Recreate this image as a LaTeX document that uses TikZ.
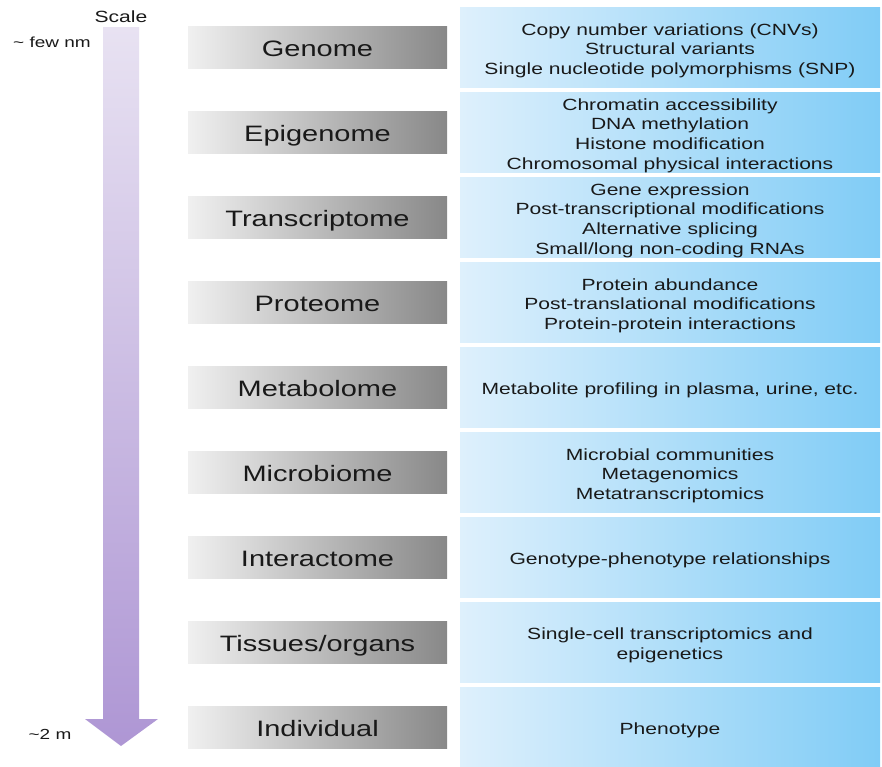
\documentclass[tikz,border=0pt]{standalone}
\usepackage{fontspec}
\setmainfont[FakeStretch=1.3]{Liberation Sans}
\usepackage{tikz}
\usetikzlibrary{positioning,shapes}
\definecolor{scaletop}{RGB}{232, 226, 242}
\definecolor{scalebottom}{RGB}{174, 150, 212}
\definecolor{layerlight}{RGB}{240, 240, 240}
\definecolor{layerdark}{RGB}{136, 136, 136}
\definecolor{infolight}{RGB}{222, 240, 252}
\definecolor{infodark}{RGB}{128, 204, 246}
\newcommand{\infofont}{\fontsize{8.1}{9.8}\selectfont\lineskiplimit=-20pt\relax}

\begin{document}
\begin{tikzpicture}[x=0.5pt, y=-0.5pt,
    layer/.style={left color=layerlight, right color=layerdark, minimum width=129.5pt, minimum height=21pt, inner sep=0pt, text height=9pt, text depth=0pt, font=\fontsize{11.15}{13}\selectfont, text=black!90},
    info/.style={left color=infolight, right color=infodark, minimum width=210pt, minimum height=40pt, inner sep=0pt},
    infotext/.style={align=center, inner sep=0pt, yshift=-1.75pt, font=\infofont, text=black!90},
    tag/.style={font=\fontsize{7.3}{9}\selectfont, text=black!90, inner sep=0pt}]
        \useasboundingbox (0, 0) rectangle (882, 766);

        % Scale arrow
        \shade[top color=scaletop, bottom color=scalebottom] (103, 27) -- (139, 27) -- (139, 719) -- (158, 719) -- (121, 746) -- (85, 719) -- (103, 719) -- cycle;
        \node[tag, font=\fontsize{8.1}{10}\selectfont] (scale) at (121, 17) {Scale};
        \node[tag] (small) at (52, 42) {\textasciitilde{} few nm};
        \node[tag] (large) at (50, 734) {\textasciitilde2 m};

        % Layers (left) and what is measured (right)
        \node[layer] (genome) at (317.5, 47) {Genome};
        \node[info] (genomeinfo) at (670, 47) {};
        \node[infotext] (genometext) at (genomeinfo) {Copy number variations (CNVs)\\Structural variants\\Single nucleotide polymorphisms (SNP)};

        \node[layer] (epigenome) at (317.5, 132) {Epigenome};
        \node[info] (epigenomeinfo) at (670, 132) {};
        \node[infotext] (epigenometext) at (epigenomeinfo) {Chromatin accessibility\\DNA methylation\\Histone modification\\Chromosomal physical interactions};

        \node[layer] (transcriptome) at (317.5, 217) {Transcriptome};
        \node[info] (transcriptomeinfo) at (670, 217) {};
        \node[infotext] (transcriptometext) at (transcriptomeinfo) {Gene expression\\Post-transcriptional modifications\\Alternative splicing\\Small/long non-coding RNAs};

        \node[layer] (proteome) at (317.5, 302) {Proteome};
        \node[info] (proteomeinfo) at (670, 302) {};
        \node[infotext] (proteometext) at (proteomeinfo) {Protein abundance\\Post-translational modifications\\Protein-protein interactions};

        \node[layer] (metabolome) at (317.5, 387) {Metabolome};
        \node[info] (metabolomeinfo) at (670, 387) {};
        \node[infotext] (metabolometext) at (metabolomeinfo) {Metabolite profiling in plasma, urine, etc.};

        \node[layer] (microbiome) at (317.5, 472) {Microbiome};
        \node[info] (microbiomeinfo) at (670, 472) {};
        \node[infotext] (microbiometext) at (microbiomeinfo) {Microbial communities\\Metagenomics\\Metatranscriptomics};

        \node[layer] (interactome) at (317.5, 557) {Interactome};
        \node[info] (interactomeinfo) at (670, 557) {};
        \node[infotext] (interactometext) at (interactomeinfo) {Genotype-phenotype relationships};

        \node[layer] (tissues) at (317.5, 642) {Tissues/organs};
        \node[info] (tissuesinfo) at (670, 642) {};
        \node[infotext] (tissuestext) at (tissuesinfo) {Single-cell transcriptomics and\\epigenetics};

        \node[layer] (individual) at (317.5, 727) {Individual};
        \node[info] (individualinfo) at (670, 727) {};
        \node[infotext] (individualtext) at (individualinfo) {Phenotype};
    \end{tikzpicture}
\end{document}
